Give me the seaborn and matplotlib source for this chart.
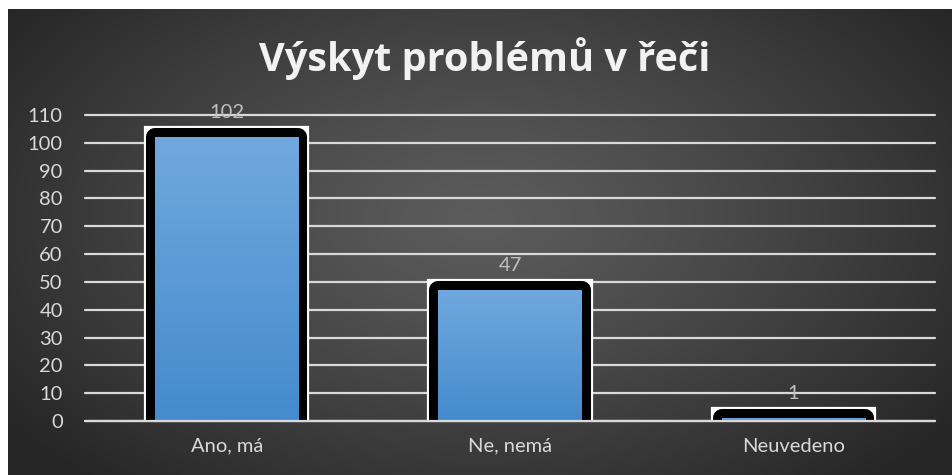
import numpy as np
import matplotlib
matplotlib.use("Agg")
import matplotlib.pyplot as plt
import matplotlib.patheffects as pe
import seaborn as sns

categories = ["Ano, má", "Ne, nemá", "Neuvedeno"]
values = [102, 47, 1]
yticks = list(range(0, 111, 10))
title = "Výskyt problémů v řeči"

sns.set_theme(style="dark")
plt.rcParams["font.family"] = ["Lato", "DejaVu Sans"]

W, H = 953, 475
fig = plt.figure(figsize=(W / 100, H / 100), dpi=100, facecolor="white")

# background panel with radial gradient
bg = fig.add_axes([8 / W, 0, 1 - 8 / W, 1 - 9 / H])
bg.set_axis_off()
gy, gx = np.mgrid[0:1:300j, 0:1:600j]
r = np.sqrt(((gx - 0.5) / 0.62) ** 2 + ((gy - 0.45) / 0.75) ** 2)
r = np.clip(r, 0, 1)
lo, hi = 0.15, 0.36
shade = hi - (hi - lo) * r ** 1.2
img = np.dstack([shade, shade, shade])
bg.imshow(img, extent=[0, 1, 0, 1], aspect="auto", origin="upper")
bg.set_xlim(0, 1)
bg.set_ylim(0, 1)

ax = fig.add_axes([85 / W, (H - 421) / H, 850 / W, (421 - 115) / H])
ax.patch.set_alpha(0)

sns.barplot(x=categories, y=values, width=0.505, color="#5b9bd5",
            saturation=1, ax=ax, zorder=3)

ax.set_ylim(0, 110)
ax.set_yticks(yticks)
ax.set_xlim(-0.5, len(categories) - 0.5)
ax.set_xlabel("")
ax.set_ylabel("")
ax.grid(axis="y", color="#d9d9d9", linewidth=1.6)
ax.set_axisbelow(True)
for gl in ax.get_ygridlines():
    gl.set_clip_on(False)
for s in ax.spines.values():
    s.set_visible(False)
ax.tick_params(axis="y", length=0, pad=16, labelsize=14.5, labelcolor="#d9d9d9")
ax.tick_params(axis="x", length=0, pad=12, labelsize=14.5, labelcolor="#d9d9d9")

grad = np.linspace(0, 1, 256).reshape(-1, 1)
top_c = np.array([0x70, 0xa8, 0xde]) / 255
bot_c = np.array([0x44, 0x8b, 0xcd]) / 255
gimg = top_c[None, None, :] * (1 - grad[:, :, None]) + bot_c[None, None, :] * grad[:, :, None]

for p in ax.patches:
    p.set_linewidth(0)
    p.set_path_effects([
        pe.Stroke(linewidth=16, foreground="white", joinstyle="miter"),
        pe.Stroke(linewidth=13, foreground="black", joinstyle="round"),
        pe.Normal(),
    ])
    x0, w, h = p.get_x(), p.get_width(), p.get_height()
    im = ax.imshow(gimg, extent=[x0, x0 + w, 0, h], aspect="auto",
                   origin="upper", zorder=4)
    im.set_clip_path(p)

ax.axhline(0, color="#d9d9d9", linewidth=1.6, zorder=5, clip_on=False)

for i, v in enumerate(values):
    ax.annotate(str(v), (i, v), xytext=(0, 18), textcoords="offset points",
                ha="center", va="center", fontsize=14.5, color="#bfbfbf",
                zorder=6, annotation_clip=False)

ax.set_xlim(-0.5, len(categories) - 0.5)
ax.set_ylim(0, 110)

fig.text(485 / W, 1 - 59 / H, title, ha="center", va="center",
         fontsize=28.5, fontweight="bold", color="#f2f2f2",
         family=["Open Sans", "DejaVu Sans"])

fig.savefig("out.png", dpi=100, facecolor="white")
